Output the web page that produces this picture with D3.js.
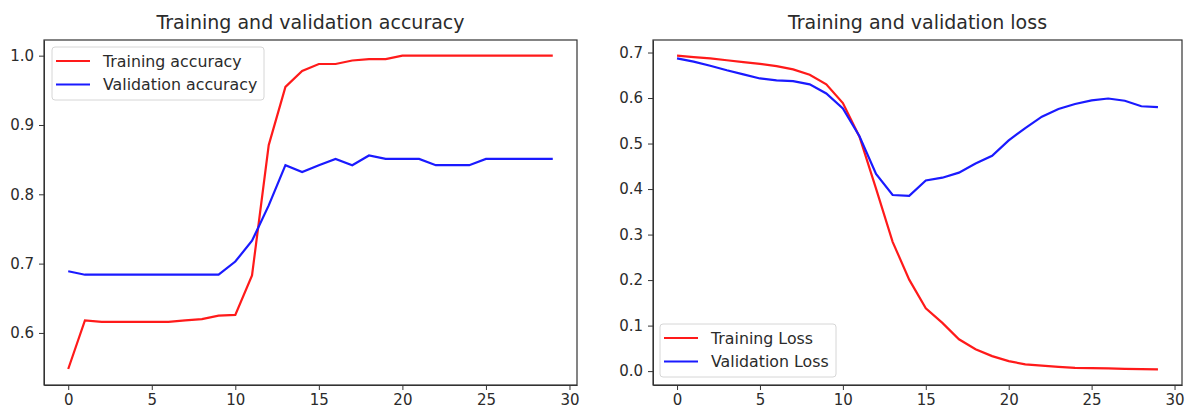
<!DOCTYPE html>
<html>
<head>
<meta charset="utf-8">
<script src="https://cdn.jsdelivr.net/npm/d3@7"></script>
<style>
  body { margin: 0; background: #fff; }
  svg { font-family: "DejaVu Sans", sans-serif; }
  .axis text { font-size: 15px; fill: #2b2b2b; font-family: "DejaVu Sans", sans-serif; }
  .axis path, .axis line { stroke: #333; }
</style>
</head>
<body>
<script>
// epochs 0..29
var epochs = d3.range(30)

var trainAcc = [0.548, 0.618, 0.616, 0.616, 0.616, 0.616, 0.616, 0.618, 0.620, 0.625,
                0.626, 0.683, 0.871, 0.955, 0.978, 0.988, 0.988, 0.993, 0.995, 0.995,
                1.0, 1.0, 1.0, 1.0, 1.0, 1.0, 1.0, 1.0, 1.0, 1.0]
var valAcc = [0.689, 0.684, 0.684, 0.684, 0.684, 0.684, 0.684, 0.684, 0.684, 0.684,
              0.703, 0.733, 0.784, 0.842, 0.832, 0.842, 0.851, 0.842, 0.856, 0.851,
              0.851, 0.851, 0.842, 0.842, 0.842, 0.851, 0.851, 0.851, 0.851, 0.851]

var trainLoss = [0.693, 0.690, 0.687, 0.683, 0.679, 0.675, 0.670, 0.663, 0.651, 0.630,
                 0.589, 0.515, 0.401, 0.284, 0.201, 0.138, 0.106, 0.070, 0.048, 0.033,
                 0.022, 0.015, 0.012, 0.0095, 0.007, 0.0066, 0.006, 0.005, 0.0045, 0.004]
var valLoss = [0.687, 0.680, 0.671, 0.661, 0.652, 0.643, 0.639, 0.637, 0.630, 0.610,
               0.577, 0.516, 0.433, 0.387, 0.385, 0.419, 0.425, 0.436, 0.456, 0.473,
               0.507, 0.534, 0.559, 0.576, 0.587, 0.595, 0.599, 0.594, 0.582, 0.580]

var xTicks = [0, 5, 10, 15, 20, 25, 30]
var accTicks = [0.6, 0.7, 0.8, 0.9, 1.0]
var lossTicks = [0, 0.1, 0.2, 0.3, 0.4, 0.5, 0.6, 0.7]

var svg = d3.select('body').append('svg').attr('width', 1189).attr('height', 411)

function panel(opts) {
    var x = d3.scaleLinear().domain([-1.45, 30.45]).range([opts.left, opts.right])
    var y = d3.scaleLinear().domain(opts.yDomain).range([385, 40])

    var g = svg.append('g')

    // title
    g.append('text')
        .attr('x', (opts.left + opts.right) / 2).attr('y', 29)
        .attr('text-anchor', 'middle')
        .style('font-size', '19px').style('fill', '#2b2b2b')
        .text(opts.title)

    g.append('g').attr('class', 'axis')
        .attr('transform', 'translate(0,385)')
        .call(d3.axisBottom(x).tickValues(xTicks).tickSize(5).tickSizeOuter(0).tickPadding(4))
    g.append('g').attr('class', 'axis')
        .attr('transform', `translate(${opts.left},0)`)
        .call(d3.axisLeft(y).tickValues(opts.yTicks).tickFormat(d3.format('.1f')).tickSize(5).tickSizeOuter(0).tickPadding(5))

    // frame
    g.append('rect')
        .attr('x', opts.left).attr('y', 40)
        .attr('width', opts.right - opts.left).attr('height', 345)
        .attr('fill', 'none').attr('stroke', '#333').attr('stroke-width', 1.2)

    var line = d3.line().x((d, i) => x(epochs[i])).y(d => y(d))
    g.append('path').attr('d', line(opts.train))
        .attr('fill', 'none').attr('stroke', '#ff1a1a').attr('stroke-width', 2.2)
    g.append('path').attr('d', line(opts.val))
        .attr('fill', 'none').attr('stroke', '#1a1aff').attr('stroke-width', 2.2)

    // legend
    var lg = g.append('g').attr('transform', `translate(${opts.legX},${opts.legY})`)
    lg.append('rect')
        .attr('width', opts.legW).attr('height', 53).attr('rx', 3)
        .attr('fill', '#fff').attr('fill-opacity', 0.85)
        .attr('stroke', '#d6d6d6')
    opts.labels.forEach(function(lab, i) {
        var yy = 14 + i * 23.5
        lg.append('line').attr('x1', 4).attr('x2', 38).attr('y1', yy).attr('y2', yy)
            .attr('stroke', i ? '#1a1aff' : '#ff1a1a').attr('stroke-width', 2.2)
        lg.append('text').attr('x', 51).attr('y', yy + 5.5)
            .style('font-size', '15.8px').style('fill', '#2b2b2b')
            .text(lab)
    })
}

panel({left: 44, right: 577, yDomain: [0.5249, 1.0226], yTicks: accTicks,
       title: 'Training and validation accuracy', train: trainAcc, val: valAcc,
       labels: ['Training accuracy', 'Validation accuracy'], legX: 52, legY: 47, legW: 212})

panel({left: 653, right: 1182, yDomain: [-0.0305, 0.7275], yTicks: lossTicks,
       title: 'Training and validation loss', train: trainLoss, val: valLoss,
       labels: ['Training Loss', 'Validation Loss'], legX: 660, legY: 324, legW: 176})
</script>
</body>
</html>
